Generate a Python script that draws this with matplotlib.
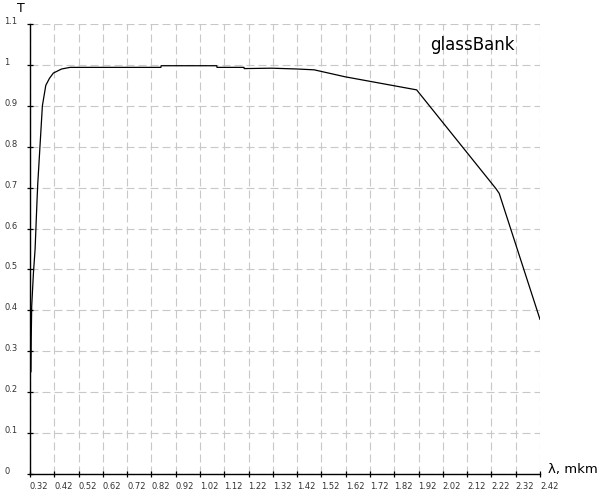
import matplotlib.pyplot as plt
import numpy as np

# transmission curve
wavelength = [0.324, 0.325, 0.327, 0.334, 0.341, 0.349, 0.352, 0.361, 0.371,
              0.385, 0.40, 0.416, 0.45, 0.485, 0.859, 0.86, 1.089, 1.09,
              1.201, 1.202, 1.316, 1.42, 1.49, 1.617, 1.912, 2.238, 2.252, 2.42]
transmission = [0.25, 0.33, 0.41, 0.49, 0.55, 0.67, 0.71, 0.80, 0.90,
                0.95, 0.967, 0.98, 0.99, 0.994, 0.994, 0.998, 0.998, 0.994,
                0.994, 0.991, 0.992, 0.99, 0.988, 0.971, 0.939, 0.698, 0.686, 0.378]

x_ticks = np.round(np.arange(0.32, 2.43, 0.1), 2)
x_labels = ['%g' % v for v in x_ticks]
y_ticks = np.round(np.arange(0, 1.11, 0.1), 1)
y_labels = ['0'] + ['%g' % v for v in y_ticks[1:]]

fig = plt.figure(figsize=(6, 5), dpi=100)
ax = fig.add_axes([0.05, 0.052, 0.85, 0.90])

ax.plot(wavelength, transmission, color='black', linewidth=0.9)

ax.set_xlim(0.32, 2.42)
ax.set_ylim(0, 1.1)
ax.set_xticks(x_ticks, x_labels)
ax.set_yticks(y_ticks, y_labels)

# dashed grid
ax.grid(True, color='#c8c8c8', linestyle=(0, (7.2, 3.6)), linewidth=0.8)
ax.set_axisbelow(True)

for s in ['top', 'right']:
    ax.spines[s].set_visible(False)
ax.spines['left'].set_linewidth(1.0)
ax.spines['bottom'].set_linewidth(1.0)

ax.tick_params(axis='both', direction='inout', length=5, width=0.9,
               labelsize=6, colors='black', labelcolor='#333333')
ax.tick_params(axis='x', pad=3)
ax.tick_params(axis='y', pad=16)
for lab in ax.get_yticklabels():
    lab.set_horizontalalignment('left')
    lab.set_verticalalignment('baseline')
for lab in ax.get_xticklabels():
    lab.set_horizontalalignment('left')

fig.text(17 / 600, 1 - 9 / 500, 'T', fontsize=9, ha='left', va='center')
fig.text(548 / 600, 1 - 469 / 500, 'λ, mkm', fontsize=9.5, ha='left', va='center')
fig.text(430 / 600, 1 - 45 / 500, 'glassBank', fontsize=12, ha='left', va='center')

plt.savefig('out.png', dpi=100)
